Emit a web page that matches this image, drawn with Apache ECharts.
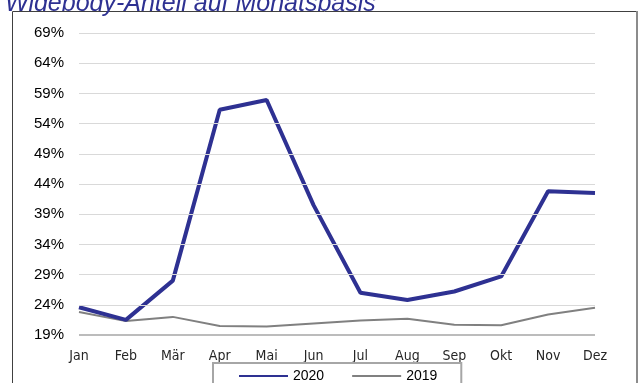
<!DOCTYPE html>
<html>
<head>
<meta charset="utf-8">
<script src="https://cdn.jsdelivr.net/npm/echarts@6/dist/echarts.min.js"></script>
<style>
  html, body { margin: 0; padding: 0; background: #fff; }
  #chart { width: 641px; height: 383px; }
</style>
</head>
<body>
<div id="chart"></div>
<script>
const months = ['Jan', 'Feb', 'Mär', 'Apr', 'Mai', 'Jun', 'Jul', 'Aug', 'Sep', 'Okt', 'Nov', 'Dez']
const share2020 = [23.6, 21.5, 28, 56.3, 57.9, 40.5, 26, 24.8, 26.2, 28.7, 42.8, 42.5]
const share2019 = [22.8, 21.3, 22, 20.5, 20.4, 20.9, 21.4, 21.7, 20.7, 20.6, 22.4, 23.5]
const yTicks = [19, 24, 29, 34, 39, 44, 49, 54, 59, 64, 69]

const FONT = 'Liberation Sans, Arial, sans-serif'
const NARROW = 'Liberation Sans Narrow, DejaVu Sans Condensed, Arial, sans-serif'

const myChart = echarts.init(document.getElementById('chart'))

const option = {
  animation: false,
  title: {
    text: 'Widebody-Anteil auf Monatsbasis',
    left: 0,
    top: -13,
    textStyle: {
      fontFamily: FONT,
      fontStyle: 'italic',
      fontWeight: 'normal',
      fontSize: 25,
      color: '#2E3192',
    },
  },
  graphic: [
    {
      type: 'rect',
      shape: { x: 12.5, y: 11.5, width: 624, height: 400 },
      style: { fill: 'none', stroke: '#404040', lineWidth: 1 },
      silent: true,
    },
    {
      type: 'line',
      shape: { x1: 637, y1: 11, x2: 637, y2: 383 },
      style: { stroke: '#8c8c8c', lineWidth: 2 },
      silent: true,
    },
  ],
  grid: {
    left: 79,
    right: 46,
    top: 33,
    bottom: 48,
  },
  legend: {
    left: 213,
    top: 363,
    padding: [6, 24, 20, 25],
    itemGap: 27,
    itemWidth: 49,
    itemHeight: 14,
    borderColor: '#a6a6a6',
    borderWidth: 2,
    itemStyle: { opacity: 0 },
    textStyle: { fontFamily: FONT, fontSize: 14, color: '#000' },
    data: ['2020', '2019'],
  },
  xAxis: {
    type: 'category',
    data: months,
    boundaryGap: false,
    axisTick: { show: false },
    axisLine: { show: false },
    axisLabel: { fontFamily: NARROW, fontSize: 14, color: '#262626', margin: 14 },
  },
  yAxis: {
    type: 'value',
    min: 19,
    max: 69,
    axisLine: { show: false },
    axisTick: { show: false },
    axisLabel: {
      customValues: yTicks,
      formatter: (v) => v + '%',
      fontFamily: FONT,
      fontSize: 15,
      color: '#000',
      margin: 15,
    },
    splitLine: { show: false },
  },
  series: [
    {
      name: '2019',
      type: 'line',
      data: share2019,
      symbol: 'none',
      lineStyle: { width: 2, color: '#808080' },
      itemStyle: { color: '#808080' },
      z: 2,
      markLine: {
        silent: true,
        symbol: 'none',
        label: { show: false },
        animation: false,
        data: yTicks.map((v) => ({
          yAxis: v,
          lineStyle: { color: v === 19 ? '#a6a6a6' : '#d9d9d9', width: v === 19 ? 1.5 : 1, type: 'solid' },
        })),
      },
    },
    {
      name: '2020',
      type: 'line',
      data: share2020,
      symbol: 'none',
      lineStyle: { width: 4, color: '#2E3192' },
      itemStyle: { color: '#2E3192' },
      z: 3,
    },
  ],
}

option && myChart.setOption(option)
</script>
</body>
</html>
